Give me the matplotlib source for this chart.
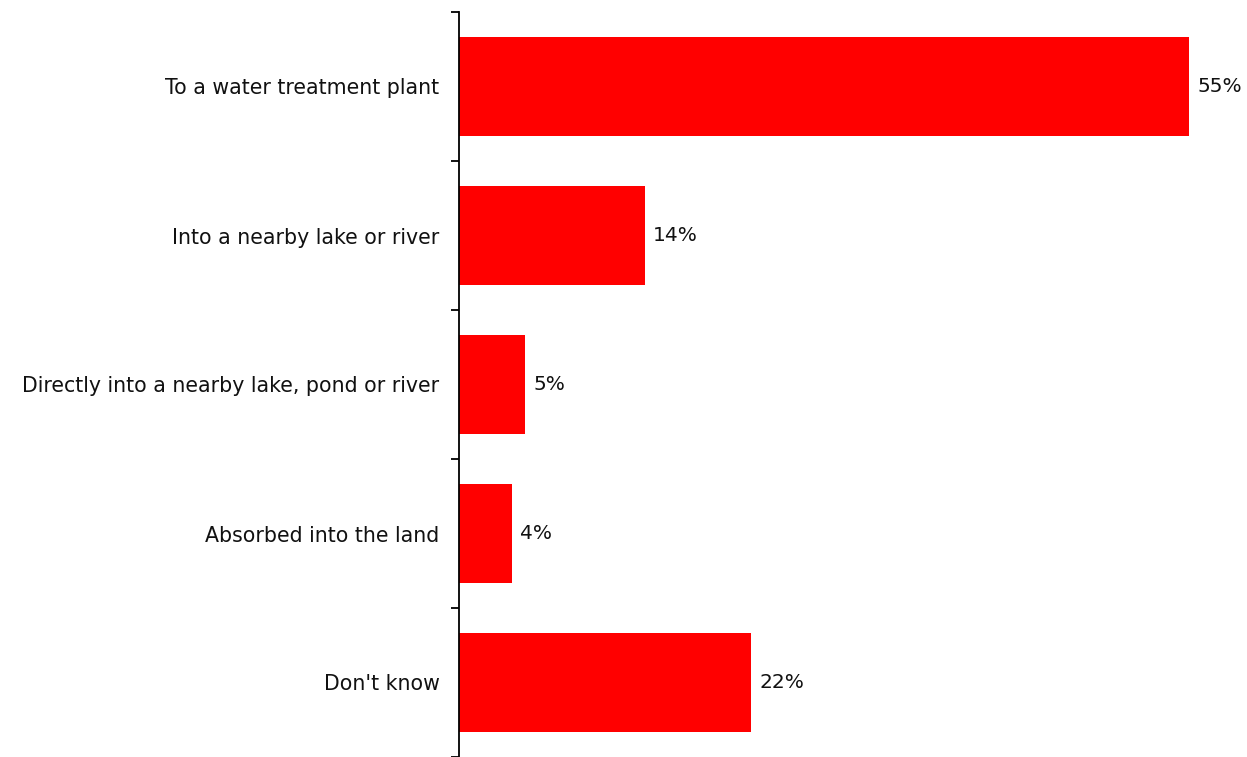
import matplotlib
matplotlib.use('Agg')
import matplotlib.pyplot as plt
import numpy as np

categories = ['To a water treatment plant',
              'Into a nearby lake or river',
              'Directly into a nearby lake, pond or river',
              'Absorbed into the land',
              "Don't know"]
values = [55, 14, 5, 4, 22]
value_labels = ['55%', '14%', '5%', '4%', '22%']

plt.rcParams['font.family'] = ['DejaVu Sans']

fig = plt.figure(figsize=(12.47, 7.57), dpi=100)
ax = fig.add_axes([459 / 1247, 0, 1 - 459 / 1247, 745 / 757])

y = np.arange(len(categories))
ax.barh(y, values, height=0.667, color='#ff0000', edgecolor='none')

for yi, v, lab in zip(y, values, value_labels):
    ax.text(v + 0.6, yi, lab, va='center', ha='left', fontsize=14.5, color='#111111')

ax.set_ylim(len(categories) - 0.5, -0.5)
ax.set_xlim(0, 788 / 13.28)

ax.set_yticks(y)
ax.set_yticklabels(categories, fontsize=14.8, color='#111111')
ax.tick_params(axis='y', which='major', length=0, pad=14)
ax.set_yticks(np.arange(-0.5, len(categories) + 0.5, 1), minor=True)
ax.tick_params(axis='y', which='minor', length=6, width=1.3, direction='out')

ax.set_xticks([])
for side in ['top', 'right', 'bottom']:
    ax.spines[side].set_visible(False)
ax.spines['left'].set_linewidth(1.3)

fig.savefig('out.png', dpi=100)
